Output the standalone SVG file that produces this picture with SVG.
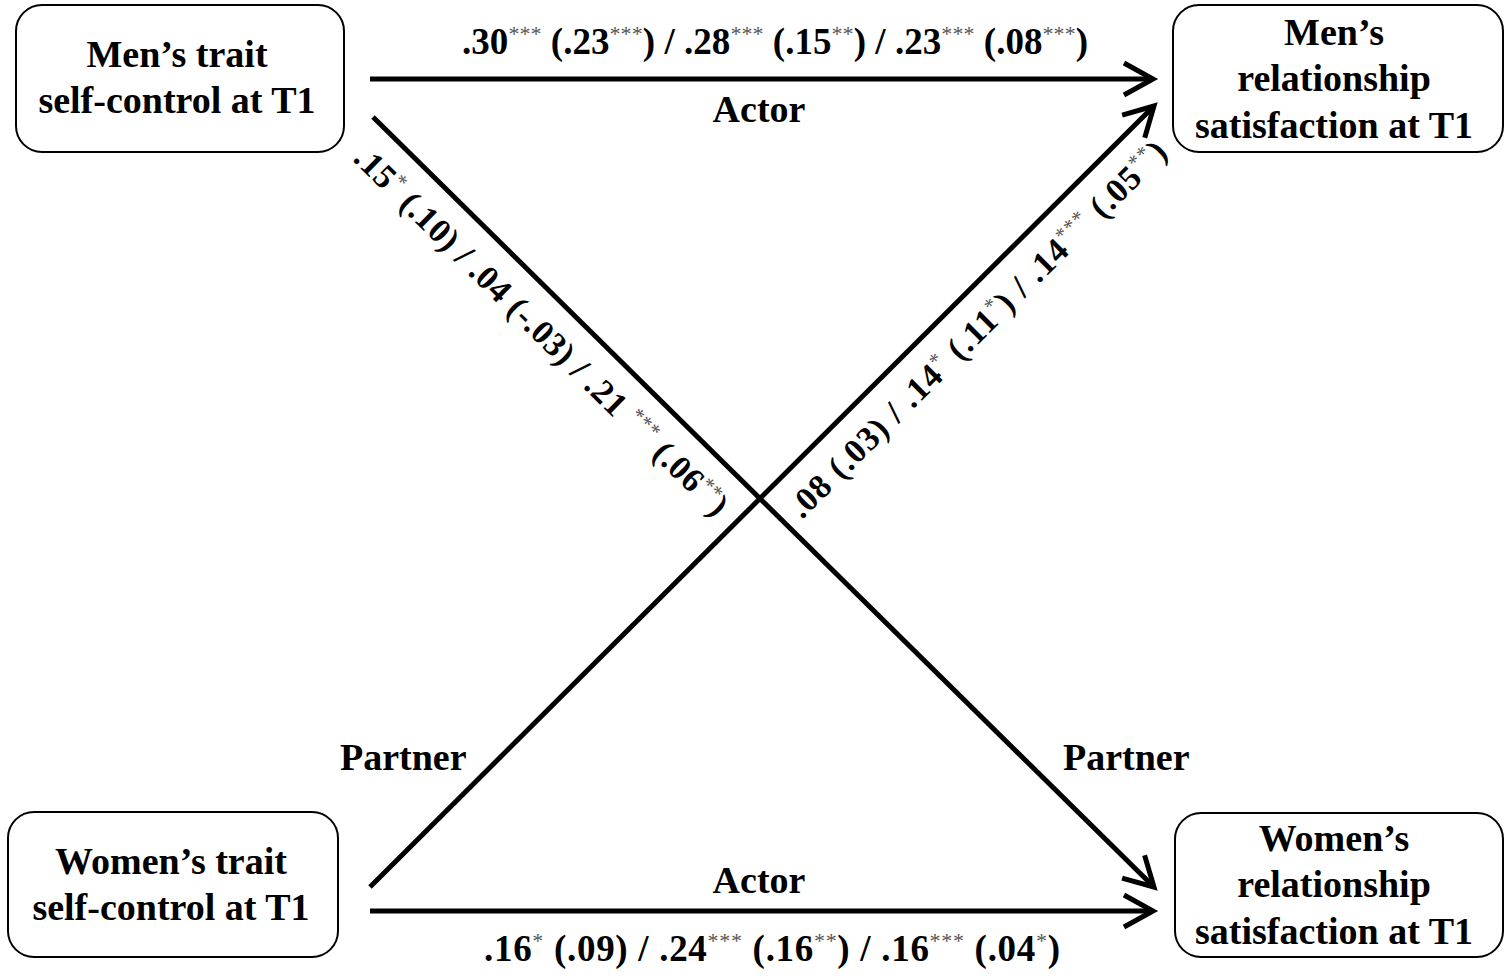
<svg xmlns="http://www.w3.org/2000/svg" width="1509" height="978" viewBox="0 0 1509 978">
<style>
.box{fill:#fff;stroke:#000;stroke-width:2}
.t{font-family:"Liberation Serif","Times New Roman",serif;font-weight:bold;font-size:38px;fill:#000}
.l{font-size:37px}
.d{font-size:34px}
.c{text-anchor:middle}
.sup{font-size:22px;font-weight:normal;fill:#555}
.dsup{font-size:21px;font-weight:normal;fill:#555}
.edge{stroke:#000;stroke-width:5;fill:none}
</style>
<defs>
<marker id="ah" markerUnits="userSpaceOnUse" markerWidth="40" markerHeight="40" viewBox="-34 -20 40 40" refX="0" refY="0" orient="auto">
<path d="M -29 -16 L 0 0 L -29 16" fill="none" stroke="#000" stroke-width="5" stroke-linejoin="miter"/>
</marker>
</defs>
<rect width="1509" height="978" fill="#fff"/>
<g id="connectors">
<line class="edge" x1="370" y1="79" x2="1153" y2="79" marker-end="url(#ah)"/>
<line class="edge" x1="370" y1="911" x2="1153" y2="911" marker-end="url(#ah)"/>
<line class="edge" x1="373" y1="117" x2="1154" y2="887" marker-end="url(#ah)"/>
<line class="edge" x1="370" y1="887" x2="1154" y2="106" marker-end="url(#ah)"/>
<text class="t l" x="462" y="54" textLength="626">.30<tspan class="sup" dy="-13">***</tspan><tspan dy="13"> (.23</tspan><tspan class="sup" dy="-13">***</tspan><tspan dy="13">) / .28</tspan><tspan class="sup" dy="-13">***</tspan><tspan dy="13"> (.15</tspan><tspan class="sup" dy="-13">**</tspan><tspan dy="13">) / .23</tspan><tspan class="sup" dy="-13">***</tspan><tspan dy="13"> (.08</tspan><tspan class="sup" dy="-13">***</tspan><tspan dy="13">)</tspan></text>
<text class="t c" x="759" y="122">Actor</text>
<text class="t c" x="759" y="893">Actor</text>
<text class="t l" x="484" y="961" textLength="576">.16<tspan class="sup" dy="-13">*</tspan><tspan dy="13"> (.09) / .24</tspan><tspan class="sup" dy="-13">***</tspan><tspan dy="13"> (.16</tspan><tspan class="sup" dy="-13">**</tspan><tspan dy="13">) / .16</tspan><tspan class="sup" dy="-13">***</tspan><tspan dy="13"> (.04</tspan><tspan class="sup" dy="-13">*</tspan><tspan dy="13">)</tspan></text>
<text class="t" x="340" y="770">Partner</text>
<text class="t" x="1063" y="770">Partner</text>
<text class="t d" transform="translate(352,160) rotate(44.6)" x="0" y="0" textLength="510">.15<tspan class="dsup" dy="-12">*</tspan><tspan dy="12"> (.10) / .04 (-.03) / .21 </tspan><tspan class="dsup" dy="-12">***</tspan><tspan dy="12"> (.06</tspan><tspan class="dsup" dy="-12">**</tspan><tspan dy="12">)</tspan></text>
<text class="t d" transform="translate(802,520) rotate(-44.9)" x="0" y="0" textLength="518">.08 (.03) / .14<tspan class="dsup" dy="-12">*</tspan><tspan dy="12"> (.11</tspan><tspan class="dsup" dy="-12">*</tspan><tspan dy="12">) / .14</tspan><tspan class="dsup" dy="-12">***</tspan><tspan dy="12"> (.05</tspan><tspan class="dsup" dy="-12">**</tspan><tspan dy="12">)</tspan></text>
</g>
<g id="men-trait">
<rect class="box" x="16" y="5" width="328" height="147" rx="26"/>
<text class="t c" x="177" y="67">Men’s trait</text>
<text class="t c" x="177" y="113">self-control at T1</text>
</g>
<g id="men-satisfaction">
<rect class="box" x="1173" y="5" width="330" height="147" rx="26"/>
<text class="t c" x="1334" y="45">Men’s</text>
<text class="t c" x="1334" y="91">relationship</text>
<text class="t c" x="1334" y="138">satisfaction at T1</text>
</g>
<g id="women-trait">
<rect class="box" x="8" y="812" width="330" height="145" rx="26"/>
<text class="t c" x="171" y="874">Women’s trait</text>
<text class="t c" x="171" y="920">self-control at T1</text>
</g>
<g id="women-satisfaction">
<rect class="box" x="1175" y="813" width="328" height="144" rx="26"/>
<text class="t c" x="1334" y="851">Women’s</text>
<text class="t c" x="1334" y="897">relationship</text>
<text class="t c" x="1334" y="944">satisfaction at T1</text>
</g>
</svg>
